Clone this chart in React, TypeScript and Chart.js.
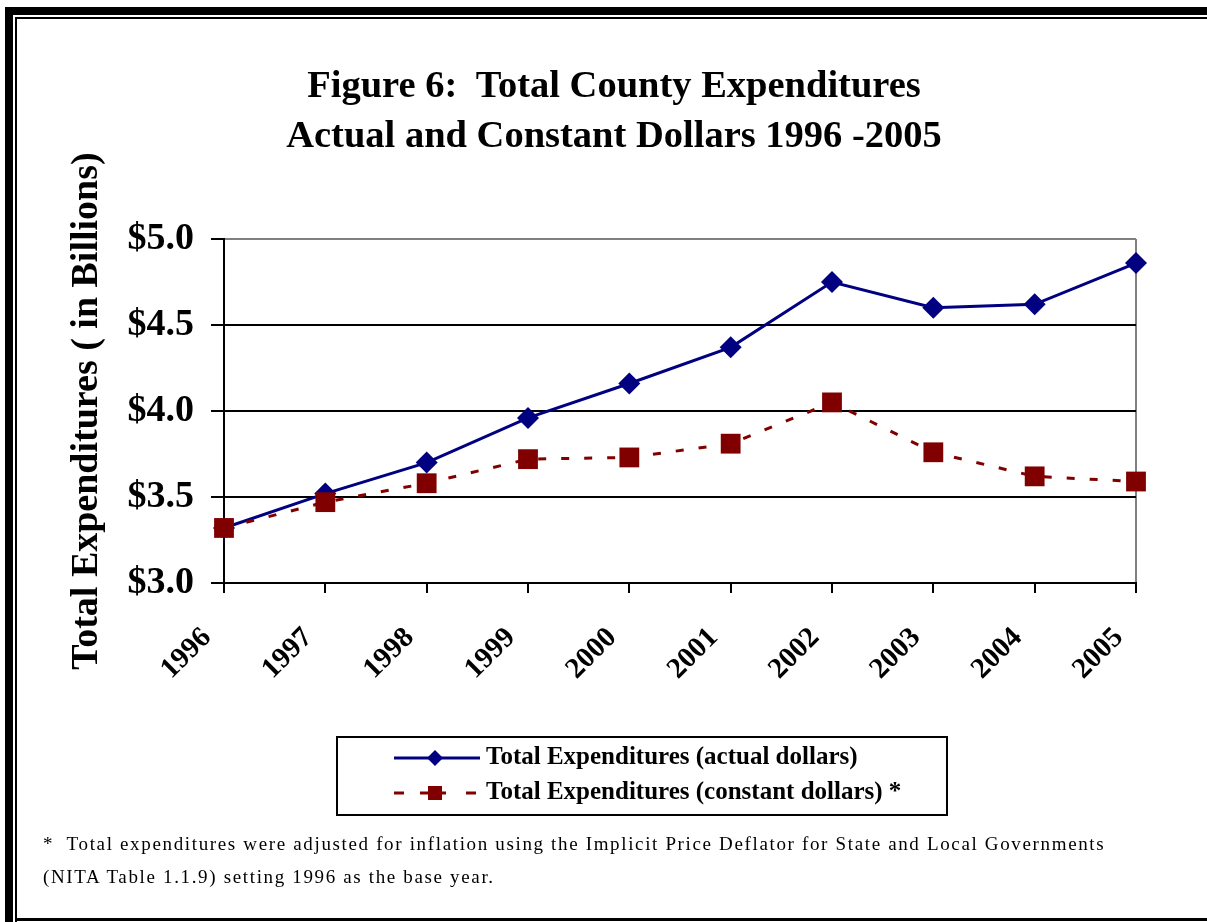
import React, { useEffect, useRef } from 'react';
import { Chart, registerables } from 'chart.js';

Chart.register(...registerables);

// ---------- data ----------
const years = ['1996', '1997', '1998', '1999', '2000', '2001', '2002', '2003', '2004', '2005'];
const actualDollars = [3.32, 3.52, 3.70, 3.96, 4.16, 4.37, 4.75, 4.60, 4.62, 4.86];
const constantDollars = [3.32, 3.47, 3.58, 3.72, 3.73, 3.81, 4.05, 3.76, 3.62, 3.59];
const yTicks = [3.0, 3.5, 4.0, 4.5, 5.0];
const seriesLabels = ['Total Expenditures (actual dollars)', 'Total Expenditures (constant dollars) *'];
const titleLines = ['Figure 6:  Total County Expenditures', 'Actual and Constant Dollars 1996 -2005'];
const yAxisTitle = 'Total Expenditures ( in Billions)';
const footnoteLines = [
  '*  Total expenditures were adjusted for inflation using the Implicit Price Deflator for State and Local Governments',
  '(NITA Table 1.1.9) setting 1996 as the base year.',
];

// ---------- styles ----------
const FONT = '"Liberation Serif", "Times New Roman", Times, serif';
const NAVY = '#000080';
const MAROON = '#800000';
const W = 1207;
const H = 922;

// legend layout
const LEG = { x: 337, y: 737, w: 610, h: 78, rows: [758, 793], lineX0: 394, lineX1: 480, markX: 435, textX: 486 };

const boxedLegend = {
  id: 'boxedLegend',
  afterDraw(chart: any) {
    const ctx: CanvasRenderingContext2D = chart.ctx;
    ctx.save();
    ctx.strokeStyle = '#000';
    ctx.lineWidth = 2;
    ctx.setLineDash([]);
    ctx.strokeRect(LEG.x, LEG.y, LEG.w, LEG.h);
    chart.data.datasets.forEach((ds: any, i: number) => {
      const cy = LEG.rows[i];
      ctx.strokeStyle = ds.borderColor;
      ctx.lineWidth = 3;
      ctx.setLineDash(ds.borderDash ? [10, 16, 26, 20, 10, 200] : []);
      ctx.beginPath();
      ctx.moveTo(LEG.lineX0, cy);
      ctx.lineTo(LEG.lineX1, cy);
      ctx.stroke();
      ctx.setLineDash([]);
      ctx.fillStyle = ds.backgroundColor;
      ctx.beginPath();
      if (ds.pointStyle === 'rectRot') {
        const r = 8;
        ctx.moveTo(LEG.markX, cy - r);
        ctx.lineTo(LEG.markX + r, cy);
        ctx.lineTo(LEG.markX, cy + r);
        ctx.lineTo(LEG.markX - r, cy);
        ctx.closePath();
      } else {
        const s = 7;
        ctx.rect(LEG.markX - s, cy - s, 2 * s, 2 * s);
      }
      ctx.fill();
      ctx.fillStyle = '#000';
      ctx.font = `bold 25px ${FONT}`;
      ctx.textBaseline = 'middle';
      ctx.textAlign = 'left';
      ctx.fillText(ds.label, LEG.textX, cy);
    });
    ctx.restore();
  },
};

export default function App() {
  const canvasRef = useRef<HTMLCanvasElement | null>(null);

  useEffect(() => {
    if (!canvasRef.current) return;
    const chart = new Chart(canvasRef.current, {
      type: 'line',
      data: {
        labels: years,
        datasets: [
          {
            label: seriesLabels[0],
            data: actualDollars,
            borderColor: NAVY,
            backgroundColor: NAVY,
            borderWidth: 3,
            pointStyle: 'rectRot',
            pointRadius: 11,
            pointBorderWidth: 0,
            pointBackgroundColor: NAVY,
            order: 1,
          },
          {
            label: seriesLabels[1],
            data: constantDollars,
            borderColor: MAROON,
            backgroundColor: MAROON,
            borderWidth: 3,
            borderDash: [8, 15],
            pointStyle: 'rect',
            pointRadius: 14,
            pointBorderWidth: 0,
            pointBackgroundColor: MAROON,
            order: 0,
          },
        ],
      },
      options: {
        responsive: false,
        animation: false,
        events: [],
        layout: { padding: { top: 239, left: 60, right: 71, bottom: 229 } },
        plugins: {
          legend: { display: false },
          tooltip: { enabled: false },
          title: { display: false },
        },
        scales: {
          x: {
            type: 'category',
            offset: false,
            border: { display: true, color: '#000', width: 2 },
            grid: {
              color: (c: any) => (c.index === years.length - 1 ? '#808080' : 'rgba(0,0,0,0)'),
              lineWidth: 2,
              tickLength: 10,
              tickColor: '#000',
              tickWidth: 2,
            },
            ticks: {
              color: '#000',
              font: { family: FONT, size: 29, weight: 'bold' },
              minRotation: 45,
              maxRotation: 45,
              autoSkip: false,
              padding: 28,
              labelOffset: -17,
            },
            afterFit: (s: any) => {
              s.height = 110;
            },
          },
          y: {
            min: 3,
            max: 5,
            border: { display: true, color: '#000', width: 2 },
            grid: {
              color: (c: any) => (c.tick && c.tick.value === 5 ? '#808080' : '#000'),
              lineWidth: 2,
              tickLength: 13,
              tickColor: '#000',
              tickWidth: 2,
            },
            afterBuildTicks: (s: any) => {
              s.ticks = yTicks.map((v) => ({ value: v }));
            },
            ticks: {
              color: '#000',
              font: { family: FONT, size: 38, weight: 'bold' },
              padding: 17,
              callback: (v: any) => '$' + Number(v).toFixed(1),
            },
            title: {
              display: true,
              text: yAxisTitle,
              color: '#000',
              font: { family: FONT, size: 38, weight: 'bold' },
              padding: { top: 4, bottom: 4 },
            },
            afterFit: (s: any) => {
              s.width = 164;
            },
          },
        },
      },
      plugins: [boxedLegend],
    } as any);
    return () => chart.destroy();
  }, []);

  const bar = (style: React.CSSProperties) => (
    <div style={{ position: 'absolute', background: '#000', ...style }} />
  );

  return (
    <div style={{ position: 'absolute', left: 0, top: 0, width: W, height: H, background: '#fff', overflow: 'hidden' }}>
      {bar({ left: 5, top: 7, width: W - 5, height: 8 })}
      {bar({ left: 5, top: 7, width: 8, height: H - 7 })}
      {bar({ left: 15, top: 17, width: W - 15, height: 2 })}
      {bar({ left: 15, top: 17, width: 2, height: H - 17 })}
      {bar({ left: 15, top: 918, width: W - 15, height: 3 })}
      <canvas ref={canvasRef} width={W} height={H} style={{ position: 'absolute', left: 0, top: 0, width: W, height: H }} />
      <div
        style={{
          position: 'absolute',
          left: 14,
          top: 59,
          width: 1200,
          textAlign: 'center',
          fontFamily: FONT,
          fontWeight: 'bold',
          fontSize: 38.5,
          lineHeight: '50px',
          color: '#000',
          whiteSpace: 'pre',
        }}
      >
        {titleLines.map((t, i) => (
          <div key={i}>{t}</div>
        ))}
      </div>
      <div
        style={{
          position: 'absolute',
          left: 43,
          top: 827,
          fontFamily: FONT,
          fontSize: 19,
          letterSpacing: '1.65px',
          lineHeight: '33px',
          color: '#000',
          whiteSpace: 'pre',
        }}
      >
        {footnoteLines.map((t, i) => (
          <div key={i}>{t}</div>
        ))}
      </div>
    </div>
  );
}
